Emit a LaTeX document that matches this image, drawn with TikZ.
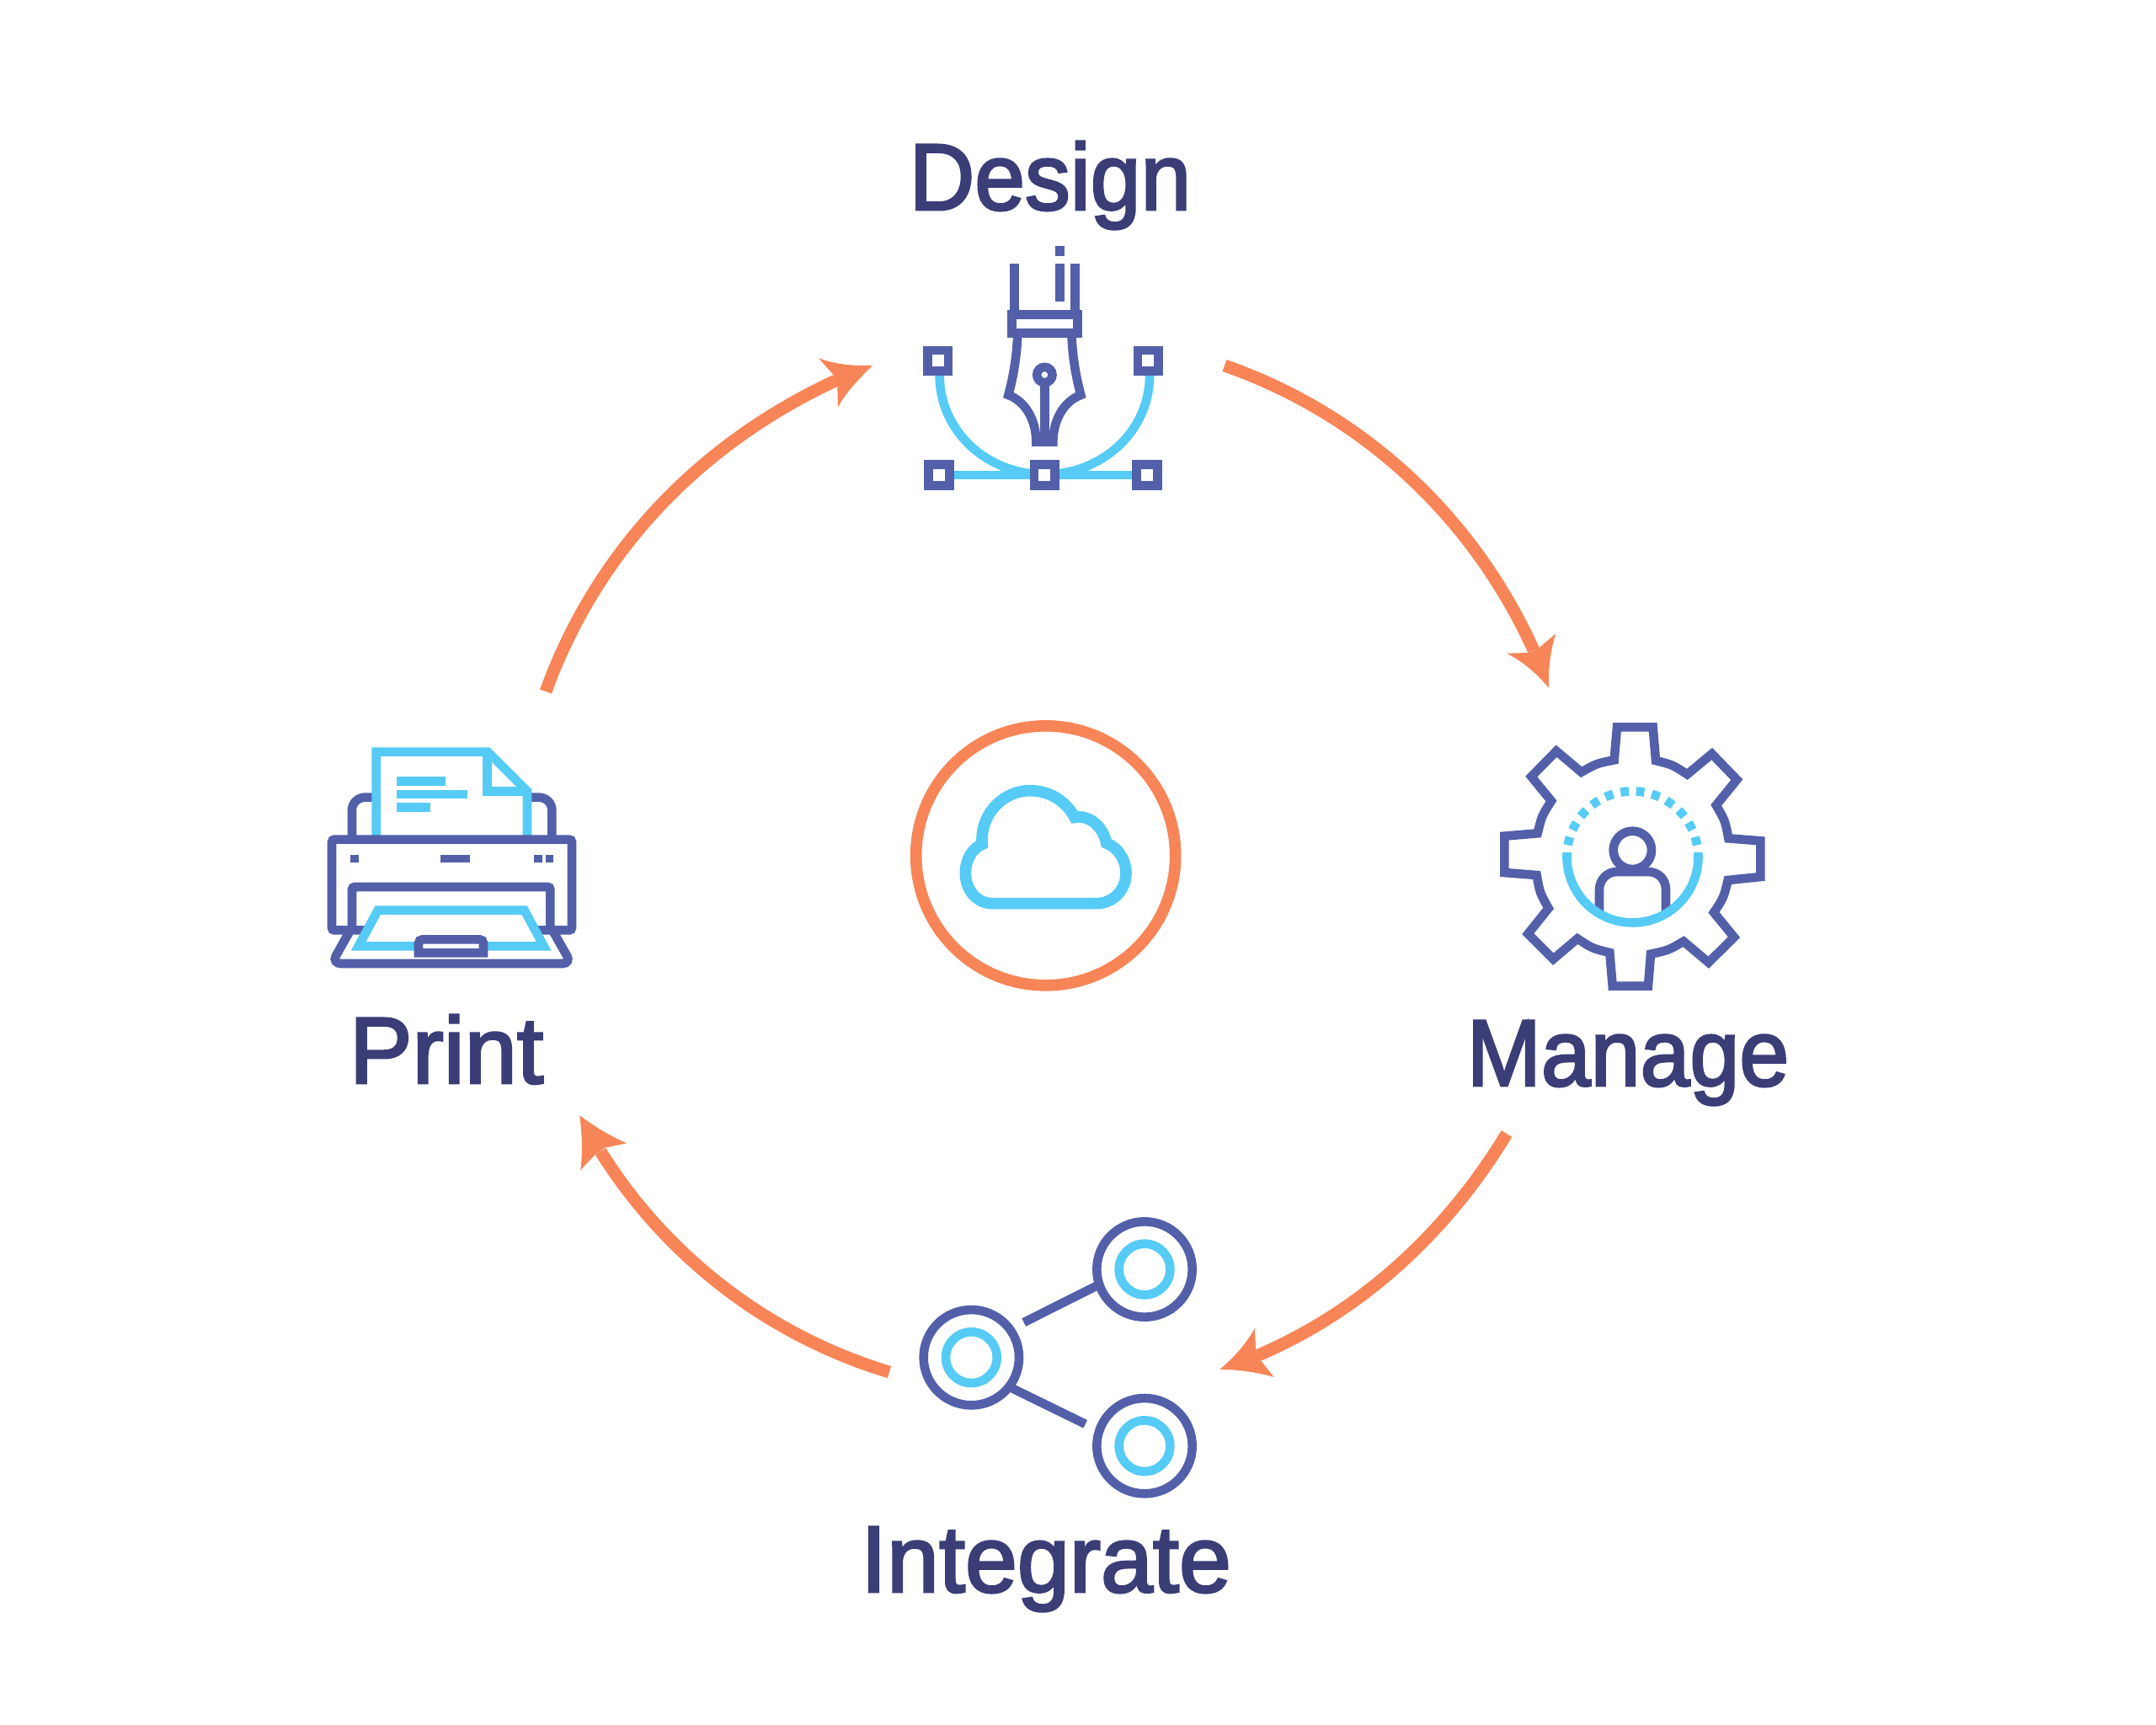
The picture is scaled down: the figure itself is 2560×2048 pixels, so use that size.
\documentclass[tikz,border=0pt]{standalone}
\usepackage{fontspec}
\setmainfont{Liberation Sans}
\newfontfamily\labelfont[FakeBold=2.6]{Liberation Sans}
\definecolor{indigo}{HTML}{5360A9}
\definecolor{skyc}{HTML}{55CBF5}
\definecolor{orng}{HTML}{F78557}
\definecolor{inkc}{HTML}{3B3D77}
\tikzset{
  zoomed/.style={x=0.166667pt,y=-0.166667pt},
  ink/.style={draw=indigo,line width=5.3pt,miter limit=10},
  sky/.style={draw=skyc,line width=5.3pt,miter limit=10},
  flowline/.style={draw=orng,line width=7.4pt},
  flowhead/.style={fill=orng,draw=none},
  steplabel/.style={text=inkc,font=\labelfont\fontsize{56}{60}\selectfont,inner sep=0pt,anchor=base},
}
\begin{document}
\begin{tikzpicture}[x=0.5pt,y=-0.5pt]
\useasboundingbox (0,0) rectangle (2560,2048);
\fill[white] (0,0) rectangle (2560,2048);

% labels
\node[steplabel] (design) at (1247,249) {\scalebox{.96}[1]{Design}};
\node[steplabel] (manage) at (1933,1289) {\scalebox{.945}[1]{Manage}};
\node[steplabel] (integrate) at (1242,1890) {\scalebox{.995}[1]{Integrate}};
\node[steplabel] (print) at (530,1286) {\scalebox{1}[1]{Print}};

% arrow end coordinates
\coordinate (a1s) at (648,821);
\coordinate (a1e) at (992,452);
\coordinate (a2s) at (1454,434);
\coordinate (a2e) at (1821,772);
\coordinate (a3s) at (1789,1346);
\coordinate (a3e) at (1494,1609);
\coordinate (a4s) at (1056,1629);
\coordinate (a4e) at (713,1367);

\draw[flowline] (a1s) .. controls (710,650) and (835,525) .. (a1e);
\draw[flowline] (a2s) .. controls (1620,492) and (1750,615) .. (a2e);
\draw[flowline] (a3s) .. controls (1720,1460) and (1620,1555) .. (a3e);
\draw[flowline] (a4s) .. controls (910,1585) and (790,1490) .. (a4e);

% arrowheads
\fill[flowhead] (1036,433.7) .. controls (1012,435) and (990,432) .. (972,425.3) -- (989,444.3) -- (994.3,458.3) -- (995,483.3) .. controls (1005,465) and (1020,450) .. cycle;
\fill[flowhead] (1839,816.7) .. controls (1838,795) and (1841,772) .. (1847.3,752.3) -- (1827.3,769.3) -- (1815,775) -- (1789,775.7) .. controls (1808,785) and (1825,800) .. cycle;
\fill[flowhead] (1448.3,1625.7) .. controls (1470,1626) and (1492,1629) .. (1512.7,1635) -- (1496.7,1615) -- (1491,1602.3) -- (1490,1576.7) .. controls (1480,1595) and (1465,1612) .. cycle;
\fill[flowhead] (688.3,1324.3) .. controls (705,1337) and (725,1349) .. (744,1357.3) -- (718.3,1362.7) -- (706.7,1370.7) -- (689.3,1389.3) .. controls (692,1368) and (691,1345) .. cycle;

% centre: ring and cloud
\begin{scope}[shift={(1060,840)},zoomed]
\draw[orng,line width=6.8pt] (545,527.5) circle[radius=462];
\draw[skyc,line width=6.8pt,miter limit=10] (355,698) -- (725,698) .. controls (785,698) and (831,650) .. (831,590) .. controls (831,540) and (800,497) .. (761,483) .. controls (750,425) and (705,389) .. (660,389) -- (648,391) .. controls (615,330) and (555,296) .. (490,296) .. controls (395,296) and (318,375) .. (318,470) -- (319,487) .. controls (285,500) and (259,540) .. (259,590) .. controls (259,650) and (300,698) .. (355,698) -- cycle;
\end{scope}

% pen icon
\begin{scope}[shift={(1050,130)},zoomed]
\draw[sky] (197,947) .. controls (197,1145) and (365,1300) .. (571,1300);
\draw[sky] (945,947) .. controls (945,1145) and (777,1300) .. (571,1300);
\draw[sky] (195,1302) -- (936,1302);
\draw[ink,fill=white] (154,858) rectangle (228,932);
\draw[ink,fill=white] (903,858) rectangle (977,932);
\draw[ink,fill=white] (158,1265) rectangle (232,1339);
\draw[ink,fill=white] (534,1265) rectangle (608,1339);
\draw[ink,fill=white] (899,1265) rectangle (973,1339);
\draw[ink] (625,487) -- (625,522);
\draw[ink] (625,548) -- (625,683);
\draw[ink] (463.5,550) -- (463.5,730);
\draw[ink] (679.5,550) -- (679.5,730);
\draw[ink] (454.5,731) rectangle (688,797);
\draw[ink] (475,797) .. controls (472,880) and (460,950) .. (442,1017) .. controls (505,1040) and (541,1110) .. (541,1184) -- (601,1184) .. controls (601,1110) and (637,1040) .. (700,1017) .. controls (682,950) and (670,880) .. (667,797);
\draw[ink] (571,973) -- (571,1184);
\draw[ink] (571,945) circle[radius=27.5];
\end{scope}

% gear icon
\begin{scope}[shift={(1760,840)},zoomed]
\draw[ink] (480,70) -- (608,70) -- (618,189) .. controls (678,204) .. (730,238) -- (818,165) -- (907,257) -- (833,348) .. controls (865,403) .. (877,466) -- (991,475) -- (991,603) -- (875,615) .. controls (860,677) .. (825,730) -- (897,818) -- (806,908) -- (717,833) .. controls (662,865) .. (600,878) -- (591,992) -- (464,992) -- (454,873) .. controls (392,858) .. (339,823) -- (253,896) -- (163,806) -- (236,715) .. controls (205,660) .. (194,597) -- (79,588) -- (79,458) -- (197,448) .. controls (212,386) .. (246,333) -- (175,246) -- (264,155) -- (353,230) .. controls (408,199) .. (470,187) -- cycle;
\draw[ink] (535,508) circle[radius=68];
\draw[ink] (417,728) -- (417,650) .. controls (417,612) and (445,585) .. (480,585) -- (590,585) .. controls (628,585) and (654,612) .. (654,650) -- (654,728);
\draw[sky] (302,516) arc[start angle=184,end angle=-4,radius=234];
\foreach \i in {0,...,5}{
  \draw[sky] ({535+234*cos(194+13.84*\i-3.6)},{532+234*sin(194+13.84*\i-3.6)}) arc[start angle={194+13.84*\i-3.6},end angle={194+13.84*\i+3.6},radius=234];
  \draw[sky] ({535+234*cos(276.8+13.84*\i-3.6)},{532+234*sin(276.8+13.84*\i-3.6)}) arc[start angle={276.8+13.84*\i-3.6},end angle={276.8+13.84*\i+3.6},radius=234];
}
\end{scope}

% network icon
\begin{scope}[shift={(1060,1430)},zoomed]
\foreach \cx/\cy in {280/545,897/231,897/860}{
  \draw[ink] (\cx,\cy) circle[radius=170];
  \draw[sky] (\cx,\cy) circle[radius=91];
}
\draw[ink] (467,420) -- (726,290);
\draw[ink] (420,652) -- (686,782);
\end{scope}

% printer icon
\begin{scope}[shift={(370,870)},zoomed]
\draw[ink] (144,380) -- (144,275) .. controls (144,250) and (165,230) .. (190,230) -- (225,230);
\draw[ink] (856,380) -- (856,275) .. controls (856,250) and (835,230) .. (810,230) -- (775,230);
\draw[sky,fill=white] (230,372) -- (230,68) -- (628,68) -- (768,208) -- (768,372);
\draw[sky] (626,68) -- (626,209) -- (768,209);
\draw[sky] (304,172) -- (477,172);
\draw[sky] (304,219) -- (555,219);
\draw[sky] (304,265) -- (423,265);
\draw[ink,rounded corners=1.5pt] (72,380) rectangle (927,703);
\draw[ink,rounded corners=1.5pt] (144,703) -- (144,549) -- (850,549) -- (850,703);
\fill[indigo] (139,434) rectangle (167,461);
\fill[indigo] (458,434) rectangle (564,461);
\fill[indigo] (793,434) rectangle (821,461);
\fill[indigo] (834,434) rectangle (862,461);
\draw[ink] (133,712) -- (86,795) .. controls (78,810) and (88,822) .. (105,822) -- (893,822) .. controls (910,822) and (918,810) .. (910,795) -- (863,712);
\draw[sky,fill=white] (236,632) -- (758,632) -- (827,760) -- (167,760) -- cycle;
\fill[white] (381,736) rectangle (612,784);
\draw[ink] (381,784) -- (381,750) .. controls (381,742) and (387,736) .. (395,736) -- (598,736) .. controls (606,736) and (612,742) .. (612,750) -- (612,784) -- cycle;
\end{scope}
\end{tikzpicture}
\end{document}
